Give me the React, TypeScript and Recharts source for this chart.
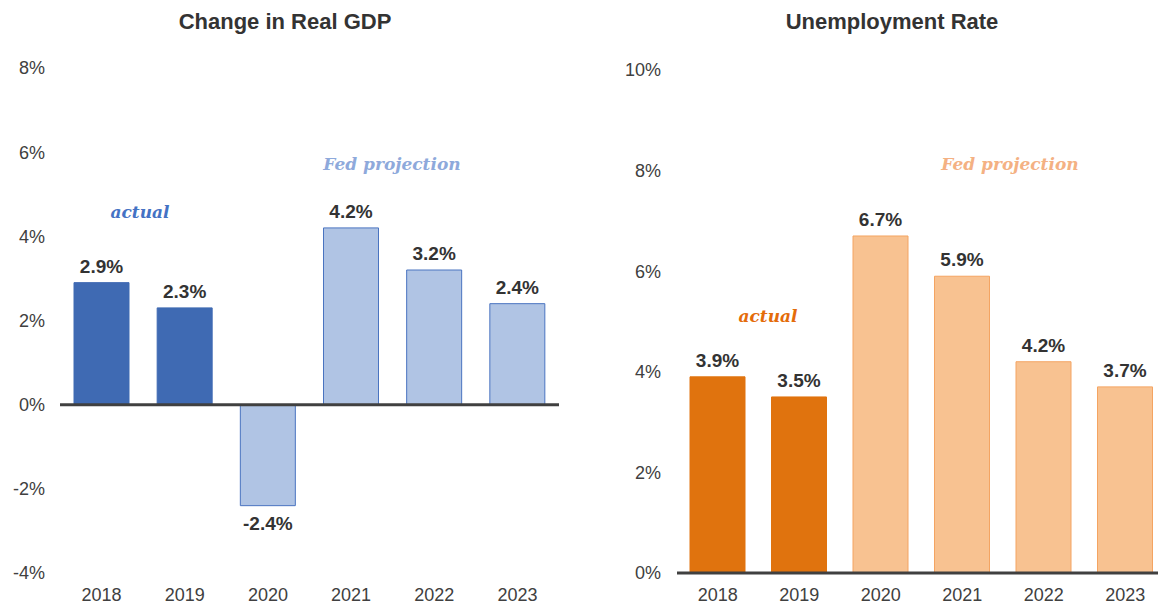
import React from 'react';
import { BarChart, Bar, XAxis, YAxis, Cell, LabelList, ReferenceLine } from 'recharts';

const years = ['2018', '2019', '2020', '2021', '2022', '2023'];
const isActual = [true, true, false, false, false, false];

const gdpValues = [2.9, 2.3, -2.4, 4.2, 3.2, 2.4];
const gdpTicks = [-4, -2, 0, 2, 4, 6, 8];

const unempValues = [3.9, 3.5, 6.7, 5.9, 4.2, 3.7];
const unempTicks = [0, 2, 4, 6, 8, 10];

const SANS = '"Liberation Sans", Arial, sans-serif';
const SERIF = '"DejaVu Serif", serif';

const gdpData = years.map((year, i) => ({ year, value: gdpValues[i], actual: isActual[i] }));
const unempData = years.map((year, i) => ({ year, value: unempValues[i], actual: isActual[i] }));

const tickStyle = { fontFamily: SANS, fontSize: 18, fill: '#404040' };

// value label above positive bars, below negative ones
const ValueLabel = (props: any) => {
  const { x, y, width, height, value } = props;
  const v = Number(value);
  const top = Math.min(y, y + height);
  const bottom = Math.max(y, y + height);
  const ty = v < 0 ? bottom + 24 : top - 10;
  return (
    <text
      x={x + width / 2}
      y={ty}
      textAnchor="middle"
      fontFamily={SANS}
      fontSize={19}
      fontWeight="bold"
      fill="#333"
    >
      {v.toFixed(1)}%
    </text>
  );
};

const Note = ({ x, y, color, children }: any) => (
  <div
    style={{
      position: 'absolute',
      left: x - 150,
      top: y - 12,
      width: 300,
      textAlign: 'center',
      fontFamily: SERIF,
      fontStyle: 'italic',
      fontWeight: 'bold',
      fontSize: 17,
      lineHeight: '24px',
      color,
    }}
  >
    {children}
  </div>
);

const Title = ({ x, children }: any) => (
  <div
    style={{
      position: 'absolute',
      left: x - 200,
      top: 8,
      width: 400,
      textAlign: 'center',
      fontFamily: SANS,
      fontWeight: 'bold',
      fontSize: 22,
      lineHeight: '28px',
      color: '#333',
    }}
  >
    {children}
  </div>
);

export default function App() {
  return (
    <div
      style={{
        position: 'absolute',
        left: 0,
        top: 0,
        width: 1158,
        height: 604,
        overflow: 'hidden',
        background: '#fff',
      }}
    >
      <Title x={285}>Change in Real GDP</Title>
      <Title x={892}>Unemployment Rate</Title>

      <div style={{ position: 'absolute', left: 0, top: 0 }}>
        <BarChart
          width={580}
          height={604}
          data={gdpData}
          margin={{ top: 68, right: 21, left: 1, bottom: 0 }}
          barSize={55}
        >
          <XAxis
            dataKey="year"
            axisLine={false}
            tickLine={false}
            height={31}
            tickMargin={9}
            tick={tickStyle}
            interval={0}
          />
          <YAxis
            width={59}
            domain={[-4, 8]}
            ticks={gdpTicks}
            axisLine={false}
            tickLine={false}
            tickMargin={9}
            tick={tickStyle}
            tickFormatter={(v) => `${v}%`}
          />
          <Bar dataKey="value" isAnimationActive={false}>
            {gdpData.map((d, i) => (
              <Cell
                key={i}
                fill={d.actual ? '#3F6AB3' : '#B0C4E4'}
                stroke={d.actual ? '#3F6AB3' : '#4A74C0'}
                strokeWidth={1}
              />
            ))}
            <LabelList dataKey="value" content={<ValueLabel />} />
          </Bar>
          <ReferenceLine y={0} stroke="#404040" strokeWidth={3} />
        </BarChart>
      </div>

      <div style={{ position: 'absolute', left: 580, top: 0 }}>
        <BarChart
          width={590}
          height={604}
          data={unempData}
          margin={{ top: 70, right: 4, left: 0, bottom: 0 }}
          barSize={55}
        >
          <XAxis
            dataKey="year"
            axisLine={false}
            tickLine={false}
            height={31}
            tickMargin={9}
            tick={tickStyle}
            interval={0}
          />
          <YAxis
            width={97}
            domain={[0, 10]}
            ticks={unempTicks}
            axisLine={false}
            tickLine={false}
            tickMargin={10}
            tick={tickStyle}
            tickFormatter={(v) => `${v}%`}
          />
          <Bar dataKey="value" isAnimationActive={false}>
            {unempData.map((d, i) => (
              <Cell
                key={i}
                fill={d.actual ? '#E0730E' : '#F8C291'}
                stroke={d.actual ? '#E0730E' : '#F4A462'}
                strokeWidth={1}
              />
            ))}
            <LabelList dataKey="value" content={<ValueLabel />} />
          </Bar>
          <ReferenceLine y={0} stroke="#404040" strokeWidth={3} />
        </BarChart>
      </div>

      <Note x={140} y={212} color="#4472C4">actual</Note>
      <Note x={392} y={164} color="#8EA9DB">Fed projection</Note>
      <Note x={768} y={316} color="#E46C0A">actual</Note>
      <Note x={1010} y={164} color="#F4B183">Fed projection</Note>
    </div>
  );
}
